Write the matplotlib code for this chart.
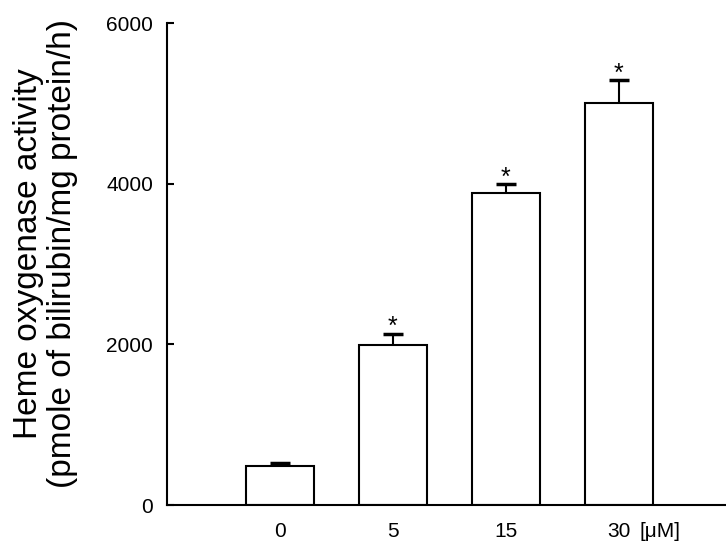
import matplotlib

matplotlib.use("Agg")
import matplotlib.pyplot as plt

# heme oxygenase activity by dose (uM)
doses = ["0", "5", "15", "30"]
activity = [490, 1990, 3890, 5010]
sem = [35, 145, 110, 280]
significant = [False, True, True, True]
y_ticks = [0, 2000, 4000, 6000]

plt.rcParams["font.family"] = ["Liberation Sans", "DejaVu Sans"]

fig = plt.figure(figsize=(7.26, 5.56), dpi=100)
ax = fig.add_axes([0.230, 0.0917, 0.770, 0.8669])

x = list(range(len(doses)))
ax.bar(x, activity, width=0.6, color="white", edgecolor="black", linewidth=1.5, zorder=2)
_, caps, _ = ax.errorbar(
    x,
    activity,
    yerr=[[0] * len(sem), sem],
    fmt="none",
    ecolor="black",
    elinewidth=1.5,
    capsize=7,
    capthick=2.5,
    zorder=3,
)
caps[0].set_visible(False)  # only the upper cap is drawn

for i, sig in enumerate(significant):
    if sig:
        ax.annotate(
            "*",
            xy=(x[i], activity[i] + sem[i]),
            xytext=(0, 4.5),
            textcoords="offset points",
            ha="center",
            va="center",
            fontsize=18,
        )

ax.set_xlim(-1.0, 3.95)
ax.set_ylim(0, 6000)
ax.set_yticks(y_ticks)
ax.set_xticks(x)
ax.set_xticklabels(doses)
ax.annotate(
    "[\u03bcM]",
    xy=(x[-1], 0),
    xycoords=ax.get_xaxis_transform(),
    xytext=(15, -12),
    textcoords="offset points",
    ha="left",
    va="top",
    fontsize=15,
)

for side in ("top", "right"):
    ax.spines[side].set_visible(False)
for side in ("left", "bottom"):
    ax.spines[side].set_linewidth(1.5)
ax.tick_params(axis="y", direction="in", length=5, width=1.5, pad=10, labelsize=15)
ax.tick_params(axis="x", length=0, pad=12, labelsize=15)

fig.text(29 / 726, 1 - 254 / 556, "Heme oxygenase activity",
         rotation=90, ha="center", va="center", fontsize=24)
fig.text(63 / 726, 1 - 254 / 556, "(pmole of bilirubin/mg protein/h)",
         rotation=90, ha="center", va="center", fontsize=24)

fig.savefig("out.png", dpi=100)
plt.close(fig)
